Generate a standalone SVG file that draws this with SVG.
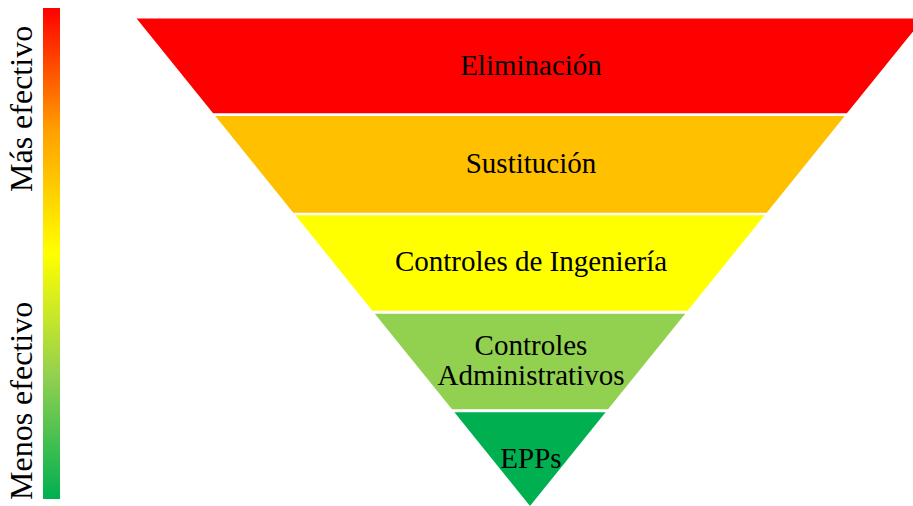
<svg xmlns="http://www.w3.org/2000/svg" width="913" height="506" viewBox="0 0 913 506">
  <style>
    .lbl { font-family: "Liberation Serif", "Times New Roman", serif; font-size: 29px; fill: #000; text-anchor: middle; }
    .side { font-family: "Liberation Serif", "Times New Roman", serif; font-size: 32px; fill: #000; }
  </style>
  <defs>
    <linearGradient id="bar" x1="0" y1="0" x2="0" y2="1">
      <stop offset="0" stop-color="#FF0000"/>
      <stop offset="0.25" stop-color="#FFA000"/>
      <stop offset="0.5" stop-color="#FFFF00"/>
      <stop offset="0.75" stop-color="#92D050"/>
      <stop offset="1" stop-color="#00B050"/>
    </linearGradient>
  </defs>
  <rect width="913" height="506" fill="#FFFFFF"/>

  <g id="scale">
    <rect x="43" y="8" width="17" height="491" fill="url(#bar)"/>
    <text class="side" transform="translate(32,192) rotate(-90)">Más efectivo</text>
    <text class="side" transform="translate(32,500) rotate(-90)">Menos efectivo</text>
  </g>

  <g id="eliminacion">
    <polygon points="136.6,18.5 923.4,18.5 846.9,113.3 213.1,113.3" fill="#FF0000"/>
    <text class="lbl" x="531" y="75">Eliminación</text>
  </g>
  <g id="sustitucion">
    <polygon points="215.3,116 844.7,116 766.7,212.7 293.3,212.7" fill="#FFC000"/>
    <text class="lbl" x="531" y="173.3">Sustitución</text>
  </g>
  <g id="ingenieria">
    <polygon points="295.4,215.3 764.6,215.3 687.6,310.7 372.4,310.7" fill="#FFFF00"/>
    <text class="lbl" x="531" y="270.7">Controles de Ingeniería</text>
  </g>
  <g id="administrativos">
    <polygon points="374.8,313.7 685.2,313.7 608,409.3 452,409.3" fill="#92D050"/>
    <text class="lbl" x="531" y="355">Controles</text>
    <text class="lbl" x="531" y="385">Administrativos</text>
  </g>
  <g id="epps">
    <polygon points="454.4,412.3 605.6,412.3 530,506" fill="#00B050"/>
    <text class="lbl" x="531" y="468">EPPs</text>
  </g>
  <g id="connectors"></g>
</svg>
